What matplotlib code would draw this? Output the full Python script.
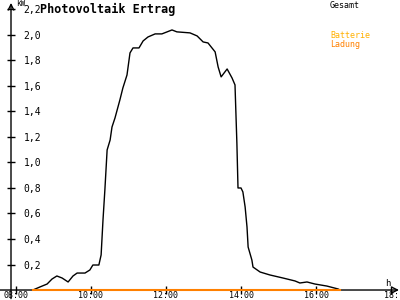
import numpy as np
import matplotlib
matplotlib.use("Agg")
import matplotlib.pyplot as plt

# Uhrzeit (h) und Leistung (kW)
zeit = [8.45, 8.64, 8.83, 8.96, 9.09, 9.23, 9.39, 9.52, 9.63, 9.84, 9.97,
        10.05, 10.21, 10.27, 10.32, 10.37, 10.43, 10.51, 10.56, 10.64, 10.77,
        10.85, 10.96, 11.04, 11.12, 11.28, 11.39, 11.52, 11.71, 11.89, 12.03,
        12.16, 12.29, 12.64, 12.83, 12.99, 13.12, 13.31, 13.39, 13.47, 13.63,
        13.76, 13.84, 13.89, 13.92, 14.0, 14.05, 14.11, 14.16, 14.19, 14.29,
        14.32, 14.51, 14.77, 15.12, 15.44, 15.57, 15.76, 15.97, 16.29, 16.59,
        16.64]
gesamt = [0.0, 0.024, 0.047, 0.086, 0.11, 0.094, 0.063, 0.11, 0.133, 0.133,
          0.157, 0.196, 0.196, 0.275, 0.549, 0.784, 1.098, 1.176, 1.278, 1.349,
          1.49, 1.584, 1.686, 1.859, 1.898, 1.898, 1.953, 1.984, 2.008, 2.008,
          2.024, 2.039, 2.024, 2.016, 1.992, 1.945, 1.937, 1.867, 1.749, 1.671,
          1.733, 1.663, 1.608, 1.153, 0.8, 0.8, 0.769, 0.651, 0.494, 0.337,
          0.235, 0.18, 0.141, 0.118, 0.094, 0.071, 0.055, 0.063, 0.047, 0.031,
          0.008, 0.0]
ladung_zeit = [8.45, 16.64]
ladung = [0.0, 0.0]

y_ticks = [0.2, 0.4, 0.6, 0.8, 1.0, 1.2, 1.4, 1.6, 1.8, 2.0, 2.2]
x_ticks = [8, 10, 12, 14, 16, 18]
x_labels = ['08:00', '10:00', '12:00', '14:00', '16:00', '18:']

mono = 'DejaVu Sans Mono'

fig = plt.figure(figsize=(4, 3), dpi=100)
ax = fig.add_axes([0.0275, 0.0333, 0.97, 0.957])
ax.set_xlim(7.867, 18.213)
ax.set_ylim(0, 2.251)
for s in ax.spines.values():
    s.set_visible(False)

# Achsen mit Pfeilen
ax.annotate('', xy=(1.0, 0), xytext=(-0.03, 0), xycoords='axes fraction',
            arrowprops=dict(arrowstyle='->', lw=1, color='black',
                            shrinkA=0, shrinkB=0), zorder=1)
ax.annotate('', xy=(0, 1.0), xytext=(0, -0.03), xycoords='axes fraction',
            arrowprops=dict(arrowstyle='->', lw=1, color='black',
                            shrinkA=0, shrinkB=0), zorder=1)

ax.plot(zeit, gesamt, color='black', lw=1, zorder=4)
ax.plot(ladung_zeit, ladung, color='#ff8000', lw=1.5, clip_on=False, zorder=5)

ax.set_yticks(y_ticks)
ax.set_yticklabels([f'{v:.1f}'.replace('.', ',') for v in y_ticks])
ax.tick_params(axis='y', direction='inout', length=6, width=1, pad=-12,
               labelsize=7)
for lab in ax.get_yticklabels():
    lab.set_fontfamily(mono)
    lab.set_horizontalalignment('left')

ax.set_xticks(x_ticks)
ax.set_xticklabels(x_labels)
ax.tick_params(axis='x', direction='inout', length=6, width=1, pad=-2,
               labelsize=6)
for lab in ax.get_xticklabels():
    lab.set_fontfamily(mono)

fig.text(40 / 400, 1 - 9 / 300, 'Photovoltaik Ertrag', family=mono,
         fontweight='bold', fontsize=8.5, va='center', ha='left')
fig.text(16 / 400, 1 - 4 / 300, 'kW', family=mono, fontsize=5.5, va='center')
fig.text(385 / 400, 1 - 283 / 300, 'h', family=mono, fontsize=6.5, va='center')
fig.text(330 / 400, 1 - 5 / 300, 'Gesamt', family=mono, fontsize=6, va='center')
fig.text(330 / 400, 1 - 36 / 300, 'Batterie', family=mono, fontsize=6,
         va='center', color='#ffb000')
fig.text(330 / 400, 1 - 44 / 300, 'Ladung', family=mono, fontsize=6,
         va='center', color='#ff8000')

fig.savefig('out.png', dpi=100)
